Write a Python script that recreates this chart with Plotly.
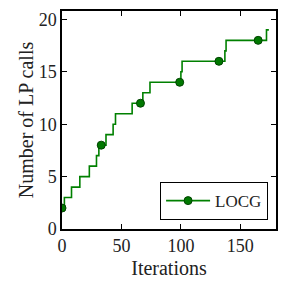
import plotly.graph_objects as go

# Step changes of the LP-call counter (iteration at which the count changes)
step_iters = [0, 2, 8, 15, 23, 29, 31, 37, 43, 45, 59, 68, 74, 100, 101, 137, 138, 172, 174]
step_calls = [2, 3, 4, 5, 6, 7, 8, 9, 10, 11, 12, 13, 14, 15, 16, 17, 18, 19, 19]
# Marked iterations
marker_iters = [0, 33, 66, 99, 132, 165]
marker_calls = [2, 8, 12, 14, 16, 18]
x_ticks = [0, 50, 100, 150]
y_ticks = [0, 5, 10, 15, 20]
series_name = "LOCG"

GREEN = "#008000"
FONT = "Liberation Serif, Times New Roman, serif"

fig = go.Figure()
fig.add_trace(go.Scatter(
    x=step_iters, y=step_calls, mode="lines",
    line=dict(color=GREEN, width=1.6, shape="hv"),
    showlegend=False, hoverinfo="skip"))
fig.add_trace(go.Scatter(
    x=marker_iters, y=marker_calls, mode="markers",
    marker=dict(color="#007800", size=8, line=dict(color="#004400", width=1)),
    showlegend=False))
fig.add_trace(go.Scatter(
    x=[None], y=[None], mode="lines+markers", name=series_name,
    line=dict(color=GREEN, width=1.6),
    marker=dict(color="#007800", size=8, line=dict(color="#004400", width=1))))

axis_common = dict(
    showline=True, linecolor="black", linewidth=1.5, mirror="ticks",
    ticks="inside", ticklen=5, tickwidth=1.2, tickcolor="black",
    showgrid=False, zeroline=False, automargin=False,
    tickfont=dict(family=FONT, size=18, color="#222"),
)

fig.update_layout(
    width=279, height=283,
    margin=dict(l=54, r=11, t=3, b=62),
    plot_bgcolor="white", paper_bgcolor="white",
    font=dict(family=FONT, color="#222"),
    xaxis=dict(range=[0, 180], tickvals=x_ticks,
               title=dict(text="Iterations", font=dict(family=FONT, size=20, color="#222"), standoff=6),
               **axis_common),
    yaxis=dict(range=[0, 20.8], tickvals=y_ticks,
               title=dict(text="Number of LP calls", font=dict(family=FONT, size=20, color="#222"), standoff=0),
               **axis_common),
    legend=dict(x=0.963, y=0.041, xanchor="right", yanchor="bottom",
                bordercolor="black", borderwidth=1, bgcolor="white",
                font=dict(family=FONT, size=17, color="#222"),
                itemwidth=44, tracegroupgap=0),
)

fig.write_html("out.html")
